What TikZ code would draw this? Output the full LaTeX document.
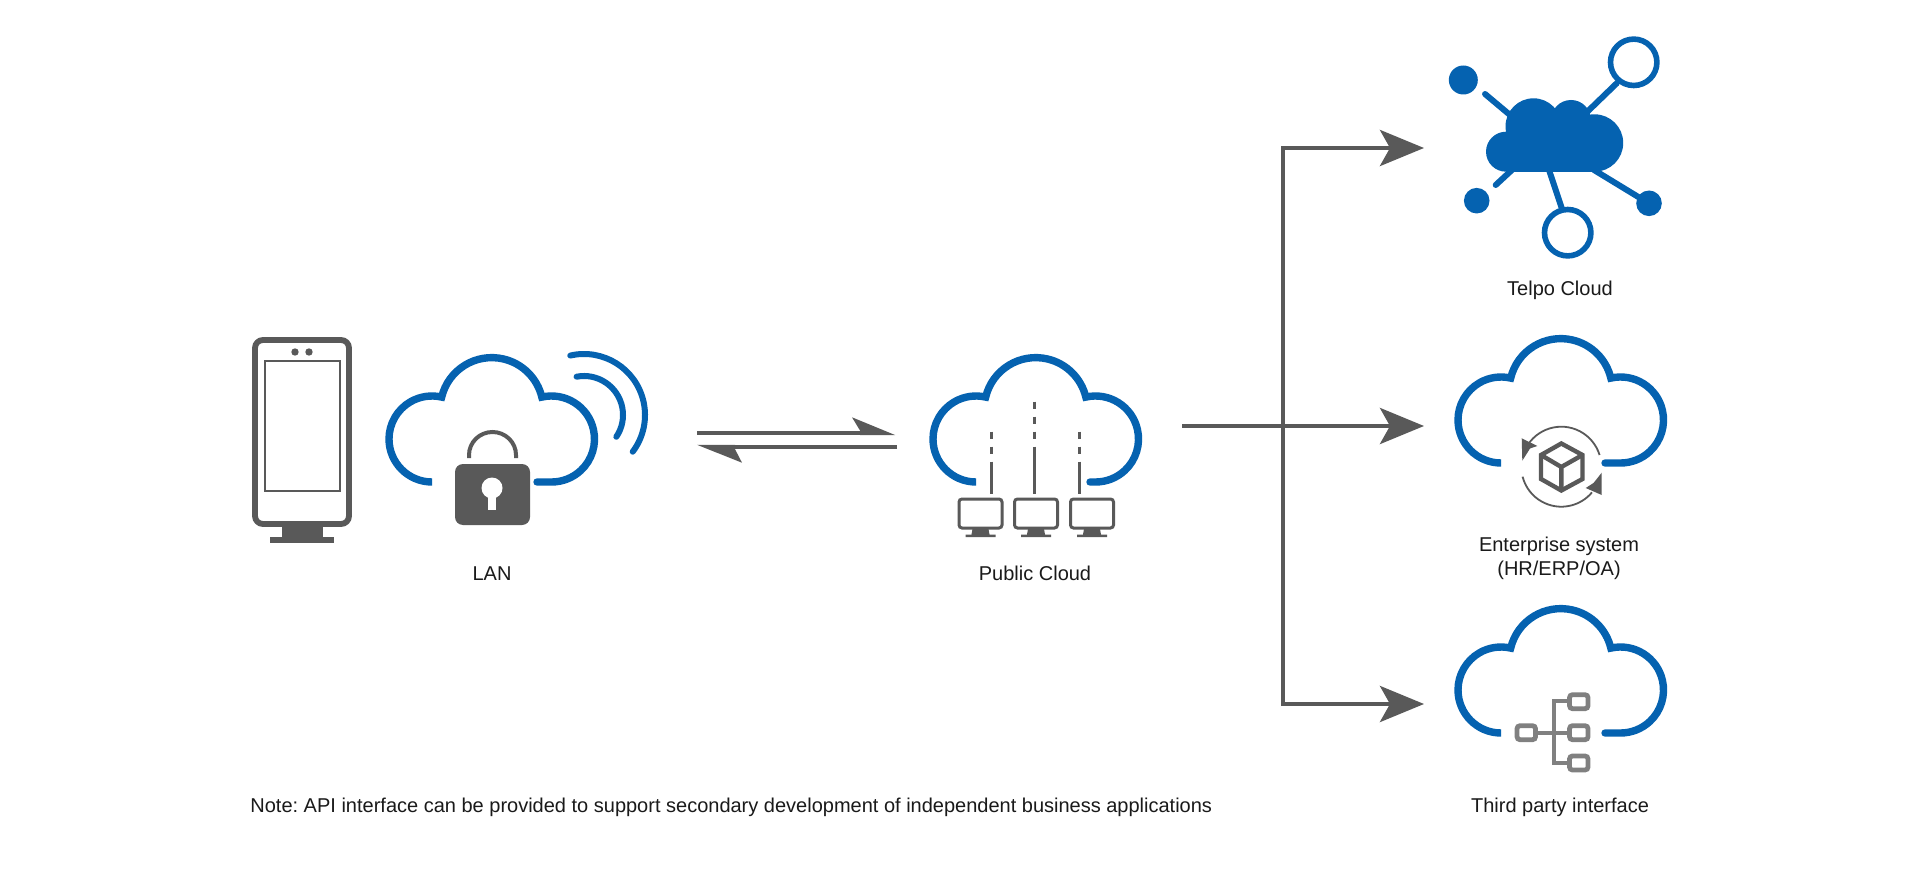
\documentclass[tikz,border=0pt]{standalone}
\usepackage{fontspec}
\setmainfont{Liberation Sans}
\frenchspacing
\usetikzlibrary{arrows.meta}
\definecolor{bluec}{HTML}{0562B0}
\definecolor{grayc}{HTML}{595959}
\definecolor{midg}{HTML}{808080}
\definecolor{txtc}{HTML}{1A1A1A}
\tikzset{
  cloudline/.style={draw=bluec,line width=3.7pt,line cap=round,miter limit=10},
  label/.style={anchor=base,font=\fontsize{10}{12}\selectfont,text=txtc,inner sep=0pt},
  flow/.style={draw=grayc,line width=2.2pt,-{Stealth[length=22pt,width=18pt,inset=5pt]}},
  twin/.style={draw=grayc,line width=2.2pt},
  net/.style={draw=bluec,line width=3pt,line cap=round},
  org/.style={draw=midg,line width=2.4pt,rounded corners=1.5pt,fill=white},
  orgl/.style={draw=midg,line width=2pt},
}
\newcommand{\cloudshape}[4]{%
  \begin{scope}[shift={(#1,#2)}]
  \draw[cloudline] (#3,124) -- (-60,124) arc[start angle=90,end angle=283,radius=43]
    arc[start angle=193.5,end angle=346.5,radius=51.5]
    arc[start angle=257,end angle=450,radius=43] -- (#4,124);
  \end{scope}}
\newcommand{\monitor}[1]{%
  \begin{scope}[shift={(#1,0)}]
  \draw[draw=grayc,line width=1.5pt,rounded corners=1.5pt] (-21.5,499) rectangle (21.5,528);
  \fill[grayc] (-8,529) -- (8,529) -- (9,534.5) -- (15,534.5) -- (15,537) -- (-15,537) -- (-15,534.5) -- (-9,534.5) -- cycle;
  \end{scope}}
\newcommand{\orgbox}[2]{\draw[org] (#1,#2) rectangle ++(18.5,-14);}
\begin{document}
\begin{tikzpicture}[x=0.5pt,y=-0.5pt]
\useasboundingbox (0,0) rectangle (1920,887);
\fill[white] (0,0) rectangle (1920,887);

% device
\fill[grayc] (282,525) rectangle (323,538);
\fill[grayc] (270,537) rectangle (334,543);
\draw[draw=grayc,line width=2.9pt,rounded corners=4pt] (255,340) rectangle (349,524);
\draw[draw=grayc,line width=0.7pt] (265,361) rectangle (340,491);
\fill[grayc] (295,352) circle[radius=3.7];
\fill[grayc] (309,352) circle[radius=3.7];

% LAN cloud
\cloudshape{492}{358}{-62}{45}
\draw[draw=bluec,line width=3pt,line cap=round] (584,415) ++(257:61) arc[start angle=257,end angle=397,radius=61];
\draw[draw=bluec,line width=3pt,line cap=round] (584,415) ++(259:39) arc[start angle=259,end angle=394,radius=39];
% lock
\draw[draw=grayc,line width=2pt] (469,458) -- (469,455) arc[start angle=180,end angle=360,x radius=23.5,y radius=23] -- (516,458);
\fill[grayc,rounded corners=4pt] (455,464) rectangle (530,525);
\fill[white] (492,488) circle[radius=10.5];
\fill[white] (488,490) rectangle (496,510);
\node[label] (lan) at (492,580) {LAN};

% twin arrows
\coordinate (ta) at (697,432.7);
\coordinate (tb) at (864,432.7);
\coordinate (ba) at (897,447);
\coordinate (bb) at (733,447);
\draw[twin] (ta) -- (tb);
\draw[twin] (ba) -- (bb);
\fill[grayc] (895,435) -- (852,417.3) -- (860,430.5) -- (860,435) -- cycle;
\fill[grayc] (697,444.8) -- (742,462.7) -- (735,449.2) -- (735,444.8) -- cycle;

% public cloud
\cloudshape{1036}{358}{-61}{54}
\foreach \xx in {991.3,1079.3}{
  \draw[grayc,line width=1.5pt] (\xx,431.7) -- (\xx,439) (\xx,446.7) -- (\xx,454.3) (\xx,461.7) -- (\xx,494);
}
\draw[grayc,line width=1.5pt] (1034.3,401.7) -- (1034.3,409) (1034.3,416.7) -- (1034.3,424) (1034.3,431.7) -- (1034.3,439) (1034.3,446.7) -- (1034.3,494);
\monitor{980.5}
\monitor{1036}
\monitor{1092}
\node[label] (pub) at (1035,580) {Public Cloud};

% flow arrows
\coordinate (src) at (1182,426);
\coordinate (hub) at (1283,426);
\coordinate (t1) at (1424,148);
\coordinate (t2) at (1424,426);
\coordinate (t3) at (1424,704);
\draw[flow] (hub) |- (t1);
\draw[flow] (hub) |- (t3);
\draw[flow] (src) -- (t2);

% Telpo cloud
\fill[bluec] (1506,151.7) circle[radius=20];
\fill[bluec] (1533.5,126.3) circle[radius=28];
\fill[bluec] (1571,120) circle[radius=20];
\fill[bluec] (1594.5,143) circle[radius=28.7];
\fill[bluec] (1506,125) rectangle (1594.5,171.7);
\fill[bluec] (1463.3,80) circle[radius=14.5];
\fill[bluec] (1476.7,200.7) circle[radius=12.8];
\fill[bluec] (1649,203.3) circle[radius=12.8];
\draw[net] (1485,94) -- (1510,115);
\draw[net] (1586,113) -- (1616.7,83.3);
\draw[net] (1495.7,185) -- (1513,169);
\draw[net] (1548.3,168) -- (1561.7,208);
\draw[net] (1594,170) -- (1640,198);
\draw[draw=bluec,line width=2.8pt] (1633.7,62.3) circle[radius=23.2];
\draw[draw=bluec,line width=2.8pt] (1567.7,232.7) circle[radius=23.2];
\node[label] (tel) at (1560,296) {Telpo Cloud};

% Enterprise cloud
\cloudshape{1561}{339}{-61}{44}
\draw[draw=grayc,line width=0.9pt] (1561.3,466.7) ++(208:40) arc[start angle=208,end angle=343,radius=40];
\draw[draw=grayc,line width=0.9pt] (1561.3,466.7) ++(165.5:40) arc[start angle=165.5,end angle=40,radius=40];
\fill[grayc] (1521.7,438.3) -- (1522.3,460.7) -- (1530,448.5) -- (1537.3,446) -- cycle;
\fill[grayc] (1601.7,472.7) -- (1601.7,495) -- (1585.7,488) -- (1593.5,483) -- cycle;
\draw[draw=grayc,line width=2.2pt,line join=miter] (1561.3,443.5) -- (1582.5,455) -- (1582.5,479) -- (1561.3,490.5) -- (1541,479) -- (1541,455) -- cycle;
\draw[draw=grayc,line width=2.2pt] (1541,455) -- (1561.3,467) -- (1582.5,455) (1561.3,467) -- (1561.3,490.5);
\node[label] (ent) at (1559,551) {Enterprise system};
\node[label] (hr) at (1559,575) {(HR/ERP/OA)};

% Third party cloud
\cloudshape{1561}{609}{-61}{44}
\draw[orgl] (1536.7,732.7) -- (1567.3,732.7);
\draw[orgl] (1567.3,700.7) -- (1554,700.7) -- (1554,762.7) -- (1567.3,762.7);
\orgbox{1517}{739.7}
\orgbox{1569.5}{708.7}
\orgbox{1569.5}{739.7}
\orgbox{1569.5}{770}
\node[label] (thd) at (1560,812) {Third party interface};

% note
\node[label,anchor=base west] (note) at (250,812) {Note: API interface can be provided to support secondary development of independent business applications};
\end{tikzpicture}
\end{document}
